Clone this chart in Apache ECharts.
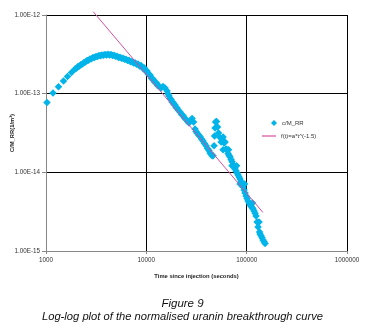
<!DOCTYPE html>
<html>
<head>
<meta charset="utf-8">
<script src="https://cdn.jsdelivr.net/npm/echarts@6/dist/echarts.min.js"></script>
<style>
html, body { margin: 0; padding: 0; background: #fff; }
#chart { width: 365px; height: 328px; }
</style>
</head>
<body>
<div id="chart"></div>
<script>
// time since injection (s)
var times = [
	1023, 1174, 1332, 1494, 1638, 1796,
	1946, 2014, 2085, 2158, 2234, 2312, 2393, 2477, 2563, 2653, 2746, 2842, 2942, 3045,
	3151, 3261, 3376, 3494, 3617, 3744, 3875, 4011, 4152, 4297, 4448, 4604, 4764, 4931,
	5105, 5284, 5468, 5659, 5858, 6063, 6276, 6496, 6723, 6958, 7201, 7453, 7715, 7985,
	8264, 8553, 8855, 9165, 9487, 9819, 10160, 10516, 10890, 11271, 11660, 12068, 12500, 12938,
	13390, 14020, 14670, 15370, 16090, 16464, 16840, 17231, 17630, 18039, 18460, 18888, 19330, 19778,
	20240, 20948, 21680, 22439, 23220, 24033, 24880, 25751,
	26650, 27590, 28560, 29560, 30590, 31300, 32030, 33151, 34310, 35511, 36750, 38036, 39370, 40748,
	42180, 43159, 44170, 45195, 46240,
	47320, 47860, 48410, 48970, 50110, 51280, 52470, 54310, 55570, 56860, 58180, 59530, 60911,
	62320, 63767, 65250, 66765, 68310, 69895, 71520, 73179, 74880, 76617, 78400, 80219,
	82080, 83984, 85930, 87924, 89970, 92057, 94210, 96396, 98630, 100918, 103300, 105697,
	108100, 110608, 113200, 115826, 118500, 121249, 124100, 127000, 129900, 134500, 136050,
	139200, 142430, 145700, 149080, 152600,
	66010, 79310, 95300, 114500, 132900, 58180, 71520, 85930
];
// c/M_RR (1/m3)
var conc = [
	7.73e-14, 1.02e-13, 1.22e-13, 1.45e-13, 1.65e-13, 1.86e-13,
	2.06e-13, 2.10e-13, 2.22e-13, 2.25e-13, 2.35e-13, 2.38e-13, 2.49e-13, 2.53e-13, 2.64e-13, 2.66e-13, 2.76e-13, 2.78e-13, 2.88e-13, 2.88e-13,
	2.97e-13, 2.96e-13, 3.06e-13, 3.03e-13, 3.10e-13, 3.08e-13, 3.15e-13, 3.10e-13, 3.17e-13, 3.09e-13, 3.14e-13, 3.05e-13, 3.08e-13, 2.98e-13,
	3.00e-13, 2.89e-13, 2.91e-13, 2.81e-13, 2.83e-13, 2.73e-13, 2.74e-13, 2.64e-13, 2.66e-13, 2.54e-13, 2.57e-13, 2.46e-13, 2.48e-13, 2.36e-13,
	2.38e-13, 2.25e-13, 2.28e-13, 2.12e-13, 2.13e-13, 1.94e-13, 1.94e-13, 1.75e-13, 1.73e-13, 1.56e-13, 1.54e-13, 1.41e-13, 1.39e-13, 1.27e-13,
	1.25e-13, 1.18e-13, 1.23e-13, 1.18e-13, 1.08e-13, 9.91e-14, 9.35e-14, 8.69e-14, 8.44e-14, 7.85e-14, 7.73e-14, 7.29e-14, 7.18e-14, 6.68e-14,
	6.58e-14, 6.12e-14, 5.85e-14, 5.44e-14, 5.28e-14, 4.91e-14, 4.70e-14, 4.43e-14,
	4.24e-14, 4.57e-14, 4.84e-14, 4.37e-14, 3.56e-14, 3.31e-14, 3.17e-14, 2.99e-14, 2.86e-14, 2.66e-14, 2.51e-14, 2.33e-14, 2.17e-14, 2.01e-14,
	1.90e-14, 1.76e-14, 1.71e-14, 1.62e-14, 1.62e-14,
	2.17e-14, 2.90e-14, 3.67e-14, 4.37e-14, 4.43e-14, 3.78e-14, 3.17e-14, 2.78e-14, 2.43e-14, 2.66e-14, 2.82e-14, 2.36e-14, 2.43e-14,
	1.98e-14, 1.93e-14, 1.74e-14, 1.64e-14, 1.57e-14, 1.46e-14, 1.36e-14, 1.26e-14, 1.17e-14, 1.10e-14, 1.04e-14, 9.83e-15,
	9.27e-15, 8.74e-15, 8.25e-15, 7.66e-15, 7.12e-15, 6.52e-15, 5.98e-15, 5.47e-15, 5.01e-15, 4.66e-15, 4.33e-15, 4.09e-15,
	3.85e-15, 3.74e-15, 3.58e-15, 3.43e-15, 3.23e-15, 3.01e-15, 2.79e-15, 2.34e-15, 2.02e-15, 1.75e-15, 1.65e-15,
	1.56e-15, 1.47e-15, 1.38e-15, 1.31e-15, 1.25e-15,
	1.93e-14, 1.21e-14, 7.12e-15, 4.09e-15, 2.34e-15, 1.93e-14, 1.21e-14, 7.12e-15
];
// fitted power law f(t)=a*t^(-1.5), end points as drawn
var fitTimes = [2960, 145000];
var fitValues = [1.1e-12, 3.1e-15];

var seriesNames = ['c/M_RR', 'f(t)=a*t^(-1.5)'];

var scatterData = [];
for (var i = 0; i < times.length; i++) {
	scatterData.push([times[i], conc[i]]);
}
var fitData = [];
for (var j = 0; j < fitTimes.length; j++) {
	fitData.push([fitTimes[j], fitValues[j]]);
}

var myChart = echarts.init(document.getElementById('chart'));

var labelFont = 'Liberation Sans, Arial, sans-serif';

var option = {
	animation: false,
	textStyle: { fontFamily: labelFont },
	title: [{
		text: 'Figure 9',
		left: 'center',
		top: 293,
		textStyle: { fontSize: 11.5, fontStyle: 'italic', fontWeight: 'normal', color: '#111', fontFamily: labelFont }
	}, {
		text: 'Log-log plot of the normalised uranin breakthrough curve',
		left: 'center',
		top: 306,
		textStyle: { fontSize: 11.2, fontStyle: 'italic', fontWeight: 'normal', color: '#111', fontFamily: labelFont }
	}],
	legend: [{
		data: [{ name: seriesNames[0], icon: 'diamond' }],
		left: 266,
		top: 115,
		itemWidth: 6,
		itemHeight: 6,
		textStyle: { fontSize: 6, color: '#333' }
	}, {
		data: [{ name: seriesNames[1], icon: 'rect' }],
		left: 257,
		top: 128,
		itemWidth: 14,
		itemHeight: 1.2,
		textStyle: { fontSize: 6, color: '#333' }
	}],
	grid: {
		left: 46,
		right: 18,
		top: 15,
		bottom: 77,
		containLabel: false,
		outerBoundsMode: 'none'
	},
	xAxis: {
		type: 'log',
		logBase: 10,
		min: 1000,
		max: 1000000,
		name: 'Time since injection (seconds)',
		nameLocation: 'middle',
		nameGap: 22,
		nameMoveOverlap: false,
		nameTextStyle: { fontSize: 5.8, fontWeight: 'bold', color: '#222' },
		axisLine: { lineStyle: { color: '#888', width: 1 } },
		axisTick: { length: 3, lineStyle: { color: '#888' } },
		minorTick: { show: false },
		axisLabel: {
			fontSize: 6.3,
			color: '#333',
			margin: 6,
			formatter: function(v) { return String(Math.round(v)); }
		},
		splitLine: { show: true, lineStyle: { color: '#000', width: 1 } }
	},
	yAxis: {
		type: 'log',
		logBase: 10,
		min: 1e-15,
		max: 1e-12,
		name: 'C/M_RR(1/m³)',
		nameLocation: 'middle',
		nameGap: 31,
		nameMoveOverlap: false,
		nameTextStyle: { fontSize: 5.8, fontWeight: 'bold', color: '#222' },
		axisLine: { lineStyle: { color: '#888', width: 1 } },
		axisTick: { length: 4, lineStyle: { color: '#888' } },
		minorTick: { show: false },
		axisLabel: {
			fontSize: 6.3,
			color: '#333',
			margin: 6,
			formatter: function(v) { return v.toExponential(2).toUpperCase(); }
		},
		splitLine: { show: true, lineStyle: { color: '#000', width: 1 } }
	},
	series: [{
		name: seriesNames[0],
		type: 'scatter',
		symbol: 'diamond',
		symbolSize: 7.5,
		itemStyle: { color: '#00b4ea', opacity: 1 },
		data: scatterData,
		z: 3
	}, {
		name: seriesNames[1],
		type: 'line',
		showSymbol: false,
		symbol: 'none',
		clip: false,
		lineStyle: { color: '#d64f9e', width: 1 },
		itemStyle: { color: '#d64f9e' },
		data: fitData,
		z: 4
	}]
};

myChart.setOption(option);
</script>
</body>
</html>
